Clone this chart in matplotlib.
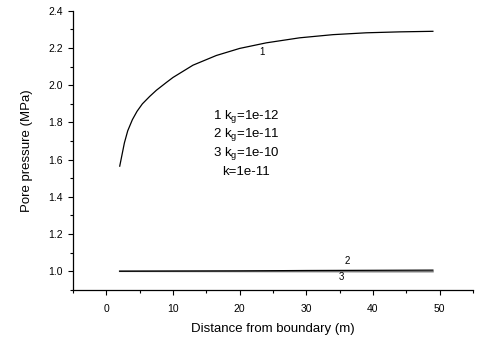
import matplotlib
matplotlib.use("Agg")
import matplotlib.pyplot as plt
from matplotlib.ticker import MultipleLocator

plt.rcParams['font.family'] = ['Liberation Sans', 'DejaVu Sans']
plt.rcParams['mathtext.default'] = 'regular'

# curve 1 (kg=1e-12)
x1 = [2, 2.7, 3.2, 3.9, 4.6, 5.4, 6.5, 7.5, 9, 10, 13, 16.5, 20, 24, 29, 34, 39, 44, 49]
y1 = [1.565, 1.69, 1.755, 1.815, 1.86, 1.90, 1.94, 1.973, 2.015, 2.042, 2.108, 2.16, 2.198, 2.228, 2.255, 2.272, 2.282, 2.287, 2.29]
# curve 2 (kg=1e-11)
x2 = [2, 10, 20, 30, 40, 49]
y2 = [1.0, 1.001, 1.002, 1.004, 1.005, 1.006]
# curve 3 (kg=1e-10)
x3 = [2, 10, 20, 30, 40, 49]
y3 = [1.0, 0.9995, 0.999, 0.9985, 0.998, 0.998]

legend_lines = ['1 $k_g$=1e-12', '2 $k_g$=1e-11', '3 $k_g$=1e-10', 'k=1e-11']

fig = plt.figure(figsize=(4.84, 3.39), dpi=100)
ax = fig.add_axes([0.151, 0.145, 0.826, 0.823])

ax.plot(x1, y1, color='black', lw=0.9)
ax.plot(x3, y3, color='#777777', lw=1.2)
ax.plot(x2, y2, color='black', lw=0.9)

ax.text(23.4, 2.18, '1', fontsize=7, ha='center', va='center')
ax.text(36.1, 1.054, '2', fontsize=7, ha='center', va='center')
ax.text(35.2, 0.968, '3', fontsize=7, ha='center', va='center')

ys = [1.83, 1.733, 1.633, 1.536]
for s, yy in zip(legend_lines, ys):
    ax.text(21, yy, s, fontsize=9.5, ha='center', va='center')

ax.set_xlim(-5, 55)
ax.set_ylim(0.9, 2.4)
ax.xaxis.set_major_locator(MultipleLocator(10))
ax.xaxis.set_minor_locator(MultipleLocator(5))
ax.yaxis.set_major_locator(MultipleLocator(0.2))
ax.yaxis.set_minor_locator(MultipleLocator(0.1))
ax.set_xticks([0, 10, 20, 30, 40, 50])
ax.set_yticks([1.0, 1.2, 1.4, 1.6, 1.8, 2.0, 2.2, 2.4])
ax.yaxis.set_major_formatter(plt.FormatStrFormatter('%.1f'))

for side in ['top', 'right']:
    ax.spines[side].set_visible(False)
ax.spines['left'].set_linewidth(0.9)
ax.spines['bottom'].set_linewidth(0.9)
ax.tick_params(which='major', length=3.5, width=0.8, labelsize=7.5, pad=4)
ax.tick_params(axis='x', which='major', pad=7)
ax.tick_params(which='minor', length=2, width=0.8)

ax.set_xlabel('Distance from boundary (m)', fontsize=9.5, labelpad=6)
ax.set_ylabel('Pore pressure (MPa)', fontsize=9.5, labelpad=11)

fig.savefig('out.png', dpi=100)
